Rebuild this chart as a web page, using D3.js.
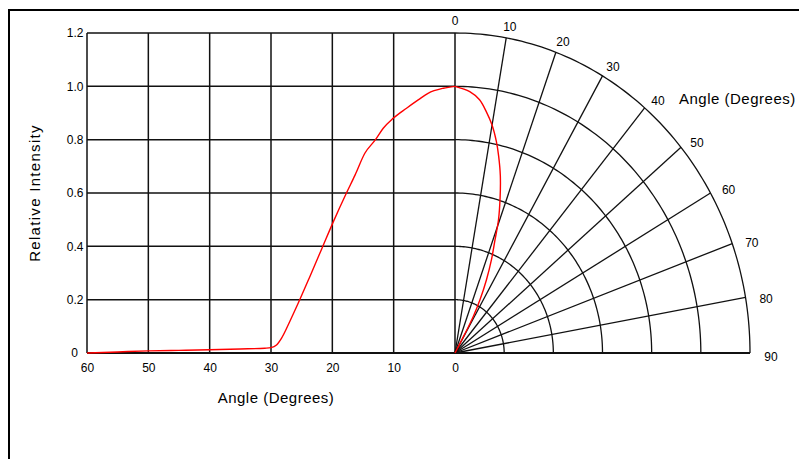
<!DOCTYPE html>
<html>
<head>
<meta charset="utf-8">
<script src="https://cdn.jsdelivr.net/npm/d3@7"></script>
<style>
  body { margin: 0; background: #fff; }
  svg { display: block; font-family: "Liberation Sans", Arial, sans-serif; }
</style>
</head>
<body>
<div id="chart"></div>
<script>
// tick values and labels
const angleTicks = [60, 50, 40, 30, 20, 10, 0];
const intensityTicks = [0, 0.2, 0.4, 0.6, 0.8, 1.0, 1.2];
const intensityLabels = ["0", "0.2", "0.4", "0.6", "0.8", "1.0", "1.2"];
const polarTicks = [0, 10, 20, 30, 40, 50, 60, 70, 80, 90];

// rectangular profile (angle in degrees, relative intensity)
const linearAngle = [60, 55, 50, 45, 40, 35, 31, 30, 29.1, 28.3, 26.9, 25.5, 23.6, 21.7, 19.9, 17.7, 16.3, 14.7, 13, 11.7, 10.1, 7.9, 6, 4.4, 1.9, 0];
const linearIntensity = [0, 0.004, 0.008, 0.010, 0.012, 0.015, 0.018, 0.020, 0.030, 0.055, 0.120, 0.190, 0.290, 0.392, 0.489, 0.600, 0.667, 0.749, 0.799, 0.843, 0.880, 0.918, 0.949, 0.974, 0.993, 1.0];

// polar profile
const polarAngle = [0, 3.5, 6, 8, 10, 12, 13.5, 15.5, 17.5, 19.5, 21, 23, 25, 27, 28.5, 29.2, 30];
const polarIntensity = [1.0, 0.982, 0.955, 0.914, 0.868, 0.81, 0.76, 0.69, 0.61, 0.53, 0.454, 0.379, 0.303, 0.223, 0.155, 0.08, 0];

const W = 799, H = 459;

const svg = d3.select("#chart")
    .append("svg")
    .attr("width", W)
    .attr("height", H);

// outer frame (top and left edges only)
svg.append("path")
    .attr("d", "M9,459V10H799")
    .attr("fill", "none")
    .attr("stroke", "#000")
    .attr("stroke-width", 2);

const x = d3.scaleLinear().domain([60, 0]).range([87, 455]);
const y = d3.scaleLinear().domain([0, 1.2]).range([353, 33]);
// horizontal extent of the polar part (slightly squashed)
const px = d3.scaleLinear().domain([0, 1.2]).range([455, 750]);

const rad = d => d * Math.PI / 180;
const polarPoint = (a, r) => [px(r * Math.sin(rad(a))), y(r * Math.cos(rad(a)))];

const grid = svg.append("g")
    .attr("fill", "none")
    .attr("stroke", "#111")
    .attr("stroke-width", 1.5);

// vertical grid on the left
grid.selectAll(".vline")
    .data(angleTicks)
    .join("line")
    .attr("x1", d => x(d)).attr("x2", d => x(d))
    .attr("y1", y(0)).attr("y2", y(1.2));

// horizontal grid on the left
grid.selectAll(".hline")
    .data(intensityTicks.filter(d => d > 0))
    .join("line")
    .attr("x1", x(60)).attr("x2", x(0))
    .attr("y1", d => y(d)).attr("y2", d => y(d));

// arcs in the polar part
const arcAngles = d3.range(0, 90.5, 1);
grid.selectAll(".arc")
    .data(intensityTicks.filter(d => d > 0))
    .join("path")
    .attr("stroke-width", 1.3)
    .attr("d", r => d3.line()(arcAngles.map(a => polarPoint(a, r))));

// rays
grid.selectAll(".ray")
    .data(polarTicks.filter(d => d > 0 && d < 90))
    .join("line")
    .attr("stroke-width", 1.3)
    .attr("x1", px(0)).attr("y1", y(0))
    .attr("x2", d => polarPoint(d, 1.2)[0])
    .attr("y2", d => polarPoint(d, 1.2)[1]);

// baseline
svg.append("line")
    .attr("x1", x(60)).attr("x2", px(1.2))
    .attr("y1", y(0)).attr("y2", y(0))
    .attr("stroke", "#111")
    .attr("stroke-width", 2.2);

// axes labels
const yAxis = svg.append("g")
    .attr("transform", "translate(" + x(60) + ",0)")
    .call(d3.axisLeft(y).tickValues(intensityTicks)
        .tickFormat((d, i) => intensityLabels[i]).tickSize(0).tickPadding(3.5));
yAxis.select(".domain").remove();
yAxis.selectAll("text").style("font-size", "12px").attr("fill", "#000");
yAxis.selectAll("text").filter(d => d === 0).attr("x", -9);

const xAxis = svg.append("g")
    .attr("transform", "translate(0," + y(0) + ")")
    .call(d3.axisBottom(x).tickValues(angleTicks).tickSize(0).tickPadding(10.5));
xAxis.select(".domain").remove();
xAxis.selectAll("text").style("font-size", "12px").attr("fill", "#000");

// polar angle labels
svg.selectAll(".plabel")
    .data(polarTicks)
    .join("text")
    .attr("x", d => px(1.285 * Math.sin(rad(d))))
    .attr("y", d => y(1.245 * Math.cos(rad(d))) + 4 * Math.sin(rad(d)))
    .attr("text-anchor", "middle")
    .attr("dominant-baseline", "central")
    .style("font-size", "12px")
    .text(d => d);

svg.append("text")
    .attr("x", 679)
    .attr("y", 98.5)
    .attr("dominant-baseline", "central")
    .style("font-size", "15px")
    .style("letter-spacing", "0.5px")
    .text("Angle (Degrees)");

svg.append("text")
    .attr("x", 276)
    .attr("y", 397.5)
    .attr("text-anchor", "middle")
    .attr("dominant-baseline", "central")
    .style("font-size", "15px")
    .style("letter-spacing", "0.5px")
    .text("Angle (Degrees)");

svg.append("text")
    .attr("transform", "translate(40,193) rotate(-90)")
    .attr("text-anchor", "middle")
    .style("font-size", "15px")
    .style("letter-spacing", "1.3px")
    .text("Relative Intensity");

// curves
const linearData = linearAngle.map((a, i) => [a, linearIntensity[i]]);
svg.append("path")
    .datum(linearData)
    .attr("fill", "none")
    .attr("stroke", "#ff0000")
    .attr("stroke-width", 1.4)
    .attr("d", d3.line()
        .x(d => x(d[0]))
        .y(d => y(d[1]))
        .curve(d3.curveMonotoneX));

const polarData = polarAngle.map((a, i) => polarPoint(a, polarIntensity[i]));
svg.append("path")
    .datum(polarData)
    .attr("fill", "none")
    .attr("stroke", "#ff0000")
    .attr("stroke-width", 1.4)
    .attr("d", d3.line().curve(d3.curveCatmullRom));
</script>
</body>
</html>
